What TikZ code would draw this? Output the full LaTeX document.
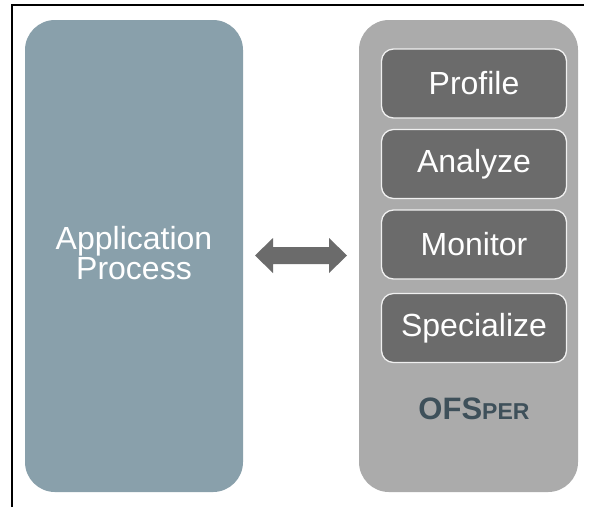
\documentclass[tikz,border=0pt]{standalone}
\usepackage{fontspec}
\setmainfont{Liberation Sans}
\definecolor{appblue}{RGB}{137,160,171}
\definecolor{panelgray}{RGB}{171,171,171}
\definecolor{boxgray}{RGB}{107,107,107}
\definecolor{slate}{RGB}{62,80,90}
\begin{document}
\begin{tikzpicture}[x=1pt,y=-1pt,
  bigbox/.style={rectangle, rounded corners=30pt, inner sep=0pt, minimum width=218pt, minimum height=472pt},
  stepbox/.style={rectangle, rounded corners=12pt, fill=boxgray, draw=white!94!black, line width=1.3pt,
     minimum width=185pt, minimum height=69pt, inner sep=0pt, text=white,
     font=\fontsize{32}{30}\selectfont},
  ]
\useasboundingbox (0,0) rectangle (593,507);
\fill[white] (0,0) rectangle (593,507);
\coordinate (fa) at (12,507);
\coordinate (fb) at (12,5);
\coordinate (fc) at (584,5);
\draw[black, line width=1.3pt] (fa) -- (fb) -- (fc);
\node[bigbox, fill=appblue] (app) at (134,256) {};
\node[text=white, align=center, font=\fontsize{32}{30}\selectfont] (apptext) at (134,253) {Application\\Process};
\node[bigbox, fill=panelgray, minimum width=219pt] (panel) at (468.5,256) {};
\node[stepbox] (profile) at (474,83.5) {Profile};
\node[stepbox] (analyze) at (474,164) {Analyze};
\node[stepbox] (monitor) at (474,244.5) {Monitor};
\node[stepbox] (special) at (474,328) {Specialize};
\node[text=slate, font=\bfseries] (ofs) at (474,409) {\fontsize{31}{30}\selectfont OFS\fontsize{23}{30}\selectfont PER};
\coordinate (arr) at (301,255.5);
\fill[boxgray] ([xshift=-46pt]arr) -- ++(18,-17.5) -- ++(0,9) -- ++(56,0) -- ++(0,-9)
   -- ([xshift=46pt]arr) -- ++(-18,17.5) -- ++(0,-9) -- ++(-56,0) -- ++(0,9) -- cycle;
\end{tikzpicture}
\end{document}
